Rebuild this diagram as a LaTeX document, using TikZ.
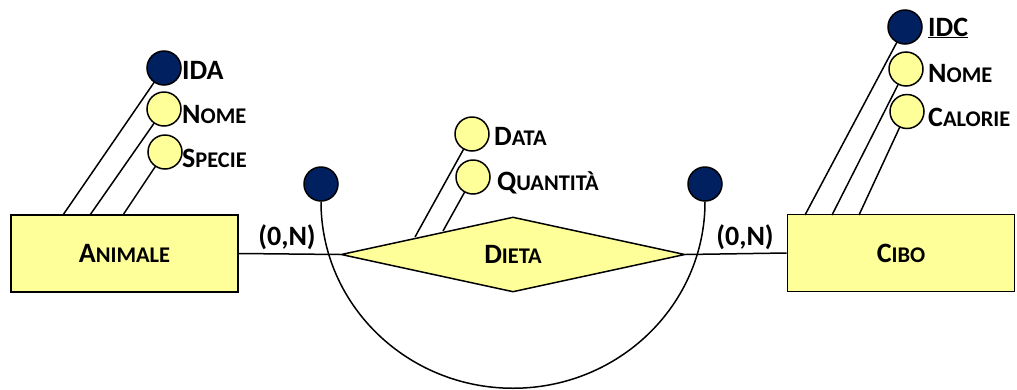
\documentclass[tikz,border=0pt]{standalone}
\usepackage{fontspec}
\setmainfont{Carlito}
\usetikzlibrary{shapes.geometric}
\definecolor{erY}{HTML}{FFFF99}
\definecolor{erN}{HTML}{002060}
\newcommand\SCx[2]{{\fontsize{28}{31}\selectfont #1}{\fontsize{22.4}{25}\selectfont #2}}
\tikzset{
  ent/.style={draw=black, line width=1.8pt, fill=erY, minimum width=227pt, minimum height=77pt, inner sep=0pt, font=\bfseries},
  rel/.style={draw=black, line width=1.5pt, fill=erY, diamond, aspect=4.6, minimum width=344pt, minimum height=75pt, inner sep=0pt, font=\bfseries},
  attY/.style={circle, draw=black, line width=1.5pt, fill=erY, minimum size=34pt, inner sep=0pt},
  attN/.style={circle, draw=black, line width=1.5pt, fill=erN, minimum size=34pt, inner sep=0pt},
  lbl/.style={anchor=west, inner sep=0pt, font=\bfseries},
  card/.style={inner sep=0pt, font=\bfseries\fontsize{28}{31}\selectfont},
  conn/.style={line width=1.5pt, draw=black}
}
\begin{document}
\begin{tikzpicture}[x=1pt,y=1pt]
\useasboundingbox (0,0) rectangle (1017,-389);
% entities and relation
\node[ent] (animale) at (124.5,-253.5) {\SCx{A}{NIMALE}};
\node[ent] (cibo) at (901,-253) {\SCx{C}{IBO}};
\node[rel] (dieta) at (513,-254.5) {\SCx{D}{IETA}};
\draw[conn] (animale.east) -- (dieta.west);
\draw[conn] (dieta.east) -- (cibo.west);
\node[card] (cardA) at (287,-237) {(0,N)};
\node[card] (cardC) at (745,-237) {(0,N)};
% participation identifiers
\node[attN] (kA) at (321,-184) {};
\node[attN] (kC) at (705,-184) {};
\draw[conn] (kA.south) arc[start angle=180, end angle=360, x radius=192, y radius=186.5];
% Animale attributes
\coordinate (a1) at (63,-215);
\coordinate (a2) at (90,-215);
\coordinate (a3) at (123,-215);
\draw[conn] (164,-68) -- (a1);
\draw[conn] (164,-109) -- (a2);
\draw[conn] (165,-152) -- (a3);
\node[attN] (ida) at (164,-68) {};
\node[attY] (nomeA) at (164,-109) {};
\node[attY] (specie) at (165,-152) {};
\node[lbl] (idaL) at (182,-70) {\fontsize{28}{31}\selectfont IDA};
\node[lbl] (nomeAL) at (182,-114) {\SCx{N}{OME}};
\node[lbl] (specieL) at (182,-158) {\SCx{S}{PECIE}};
% Dieta attributes
\coordinate (d1) at (415,-237);
\coordinate (d2) at (443,-231);
\draw[conn] (472,-134) -- (d1);
\draw[conn] (473,-177) -- (d2);
\node[attY] (data) at (472,-134) {};
\node[attY] (quant) at (473,-177) {};
\node[lbl] (dataL) at (494,-136) {\SCx{D}{ATA}};
\node[lbl] (quantL) at (497,-183) {\SCx{Q}{UANTITÀ}};
% Cibo attributes
\coordinate (c1) at (805,-215);
\coordinate (c2) at (832,-215);
\coordinate (c3) at (859,-215);
\draw[conn] (905,-27) -- (c1);
\draw[conn] (906,-69) -- (c2);
\draw[conn] (907,-111.5) -- (c3);
\node[attN] (idc) at (905,-27) {};
\node[attY] (nomeC) at (906,-69) {};
\node[attY] (calorie) at (907,-111.5) {};
\node[lbl] (idcL) at (928,-28) {\fontsize{28}{31}\selectfont\underline{IDC}};
\node[lbl] (nomeCL) at (928,-73) {\SCx{N}{OME}};
\node[lbl] (calorieL) at (928,-117) {\SCx{C}{ALORIE}};
\end{tikzpicture}
\end{document}
